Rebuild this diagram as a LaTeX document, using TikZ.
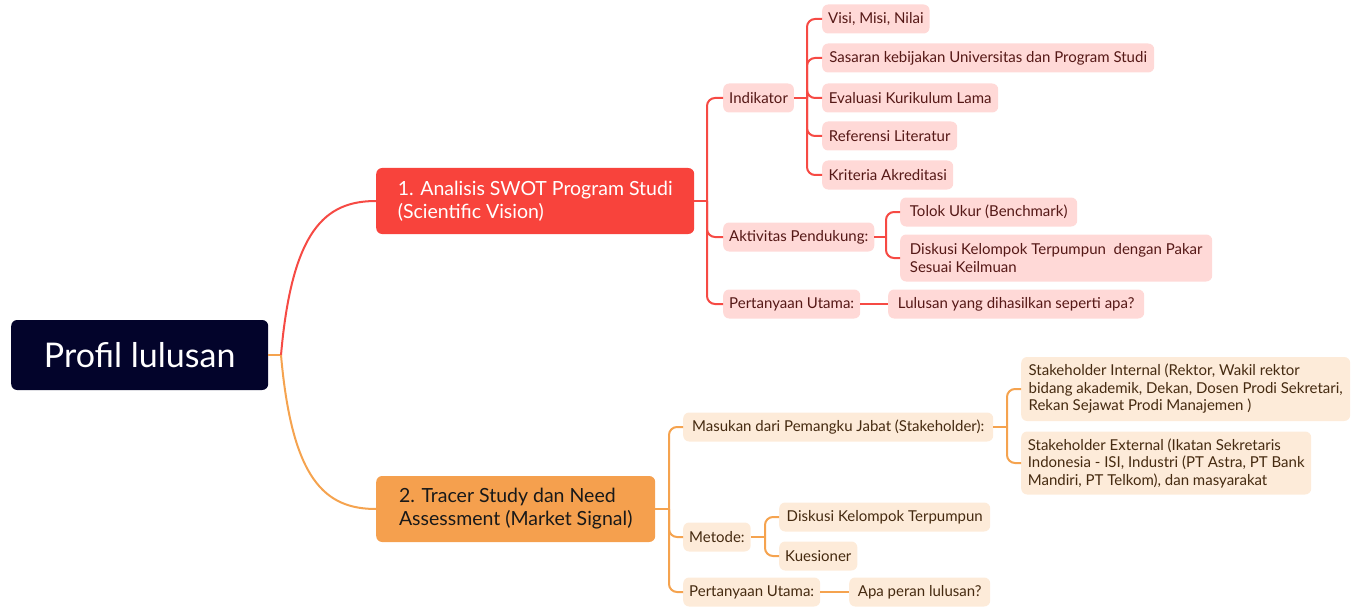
\documentclass[tikz,border=0pt]{standalone}
\usepackage{fontspec}
\setmainfont{Lato}
\definecolor{navy}{HTML}{03042B}
\definecolor{mred}{HTML}{F8433C}
\definecolor{rline}{HTML}{F64A44}
\definecolor{rfill}{HTML}{FFD9D7}
\definecolor{rtext}{HTML}{551816}
\definecolor{morange}{HTML}{F5A04E}
\definecolor{oline}{HTML}{F5A34F}
\definecolor{ofill}{HTML}{FDEBD9}
\definecolor{otext}{HTML}{452A10}
\tikzset{
  rootbox/.style={fill=navy, rounded corners=6pt, text=white, inner sep=0pt,
    font=\fontsize{34}{38}\selectfont, minimum width=257pt, minimum height=70pt, anchor=west},
  mainbox/.style={rounded corners=6pt, font=\fontsize{19.5}{23}\selectfont, align=left,
    anchor=west, inner xsep=20pt, inner ysep=0pt, minimum height=66pt},
  leaf/.style={rounded corners=6pt, font=\fontsize{15}{17.5}\selectfont, align=left,
    anchor=west, inner xsep=6pt, inner ysep=0pt, minimum height=29pt},
  rleaf/.style={leaf, fill=rfill, text=rtext},
  oleaf/.style={leaf, fill=ofill, text=otext},
  rlink/.style={draw=rline, line width=2pt, rounded corners=8pt},
  olink/.style={draw=oline, line width=2pt, rounded corners=8pt},
}
\begin{document}
\begin{tikzpicture}[x=1pt, y=-1pt]
\useasboundingbox (0,0) rectangle (1355,607);

% central topic and the two main branches
\node[rootbox] (root) at (11,355) {Profil lulusan};
\node[mainbox, fill=mred, text=white, minimum width=318pt] (swot) at (376,201)
  {1. Analisis SWOT Program Studi\\(Scientific Vision)};
\node[mainbox, fill=morange, text=black!90, minimum width=279pt] (tracer) at (376,509)
  {2. Tracer Study dan Need\\Assessment (Market Signal)};

% junction points of the connectors
\coordinate (jr) at (281,355);
\coordinate (j1) at (707,201);
\coordinate (jind) at (807,98);
\coordinate (jakt) at (886,237);
\coordinate (j2) at (669,509);
\coordinate (jmas) at (1007,427);
\coordinate (jmet) at (765,537);

% red branch
\node[rleaf, minimum width=70pt] (ind) at (723,98) {Indikator};
\node[rleaf, minimum width=105pt] (visi) at (822,19) {Visi, Misi, Nilai};
\node[rleaf, minimum width=332pt] (sas) at (822,58) {Sasaran kebijakan Universitas dan Program Studi};
\node[rleaf, minimum width=176pt] (eval) at (822,98) {Evaluasi Kurikulum Lama};
\node[rleaf, minimum width=135pt] (ref) at (822,136) {Referensi Literatur};
\node[rleaf, minimum width=131pt] (krit) at (822,175) {Kriteria Akreditasi};
\node[rleaf, minimum width=148pt] (akt) at (723,237) {Aktivitas Pendukung:};
\node[rleaf, minimum width=177pt] (tol) at (900,212) {Tolok Ukur (Benchmark)};
\node[rleaf, minimum width=312pt, minimum height=47pt] (disk) at (900,258)
  {Diskusi Kelompok Terpumpun\ \ dengan Pakar\\Sesuai Keilmuan};
\node[rleaf, minimum width=137pt] (pert1) at (723,304) {Pertanyaan Utama:};
\node[rleaf, minimum width=256pt] (lul) at (888,304) {Lulusan yang dihasilkan seperti apa?};

% orange branch
\node[oleaf, minimum width=310pt] (mas) at (683,427) {Masukan dari Pemangku Jabat (Stakeholder):};
\node[oleaf, minimum width=329pt, minimum height=64pt] (sint) at (1021,389)
  {Stakeholder Internal (Rektor, Wakil rektor\\bidang akademik, Dekan, Dosen Prodi Sekretari,\\Rekan Sejawat Prodi Manajemen )};
\node[oleaf, minimum width=290pt, minimum height=63pt] (sext) at (1021,463)
  {Stakeholder External (Ikatan Sekretaris\\Indonesia - ISI, Industri (PT Astra, PT Bank\\Mandiri, PT Telkom), dan masyarakat};
\node[oleaf, minimum width=67pt] (met) at (683,537) {Metode:};
\node[oleaf, minimum width=211pt] (dkt) at (779,517) {Diskusi Kelompok Terpumpun};
\node[oleaf, minimum width=78pt] (kues) at (779,556) {Kuesioner};
\node[oleaf, minimum width=137pt] (pert2) at (683,592) {Pertanyaan Utama:};
\node[oleaf, minimum width=141pt] (apa) at (849,592) {Apa peran lulusan?};

% connectors from the central topic
\draw[olink] (root.east) -- (jr);
\draw[rlink] (jr) .. controls (292,230) and (325,201) .. (swot.west);
\draw[olink] (jr) .. controls (292,480) and (325,509) .. (tracer.west);

% red connectors
\draw[rlink] (swot.east) -- (j1);
\foreach \c in {ind,akt,pert1} \draw[rlink] (j1) |- (\c.west);
\draw[rlink] (ind.east) -- (jind);
\foreach \c in {visi,sas,eval,ref,krit} \draw[rlink] (jind) |- (\c.west);
\draw[rlink] (akt.east) -- (jakt);
\foreach \c in {tol,disk} \draw[rlink] (jakt) |- (\c.west);
\draw[rlink] (pert1.east) -- (lul.west);

% orange connectors
\draw[olink] (tracer.east) -- (j2);
\foreach \c in {mas,met,pert2} \draw[olink] (j2) |- (\c.west);
\draw[olink] (mas.east) -- (jmas);
\foreach \c in {sint,sext} \draw[olink] (jmas) |- (\c.west);
\draw[olink] (met.east) -- (jmet);
\foreach \c in {dkt,kues} \draw[olink] (jmet) |- (\c.west);
\draw[olink] (pert2.east) -- (apa.west);
\end{tikzpicture}
\end{document}
